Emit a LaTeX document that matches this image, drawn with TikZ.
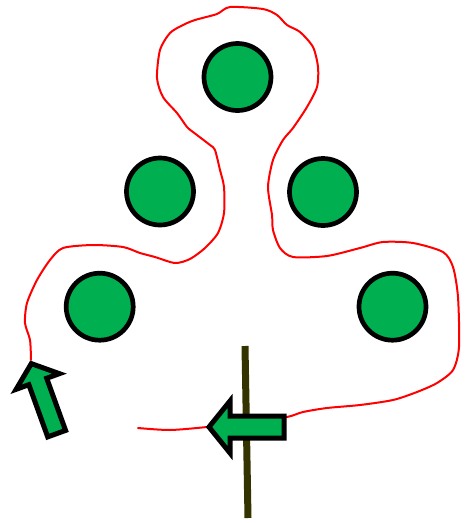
\documentclass[tikz,border=0pt]{standalone}
\definecolor{ballgreen}{RGB}{0,176,80}
\definecolor{poleolive}{RGB}{51,51,0}
\begin{document}
\begin{tikzpicture}[x=1pt,y=-1pt,
  ball/.style={circle,draw=black,fill=ballgreen,line width=4.7pt,minimum size=67pt,inner sep=0pt},
  arrowshape/.style={draw=black,fill=ballgreen,line width=5pt,line join=miter,miter limit=10},
  route/.style={red,line width=2pt,line join=round,line cap=round},
  pole/.style={poleolive,line width=7pt}]
\useasboundingbox (0,0) rectangle (466,523);
% route
\draw[route] plot[smooth,tension=0.45] coordinates {
 (138,428) (170,430) (207,427) (250,422) (287,417) (303,412) (327,408) (360,405)
 (393,400) (417,392) (437,383) (453,370) (459,347) (458,297) (453,267) (443,252)
 (413,243) (383,242) (360,248) (327,256) (293,257) (280,248) (273,230) (272,215)
 (268,187) (273,160) (283,140) (293,128) (307,107) (317,87) (318,67) (313,47)
 (300,32) (287,25) (277,15) (263,9) (230,7) (217,14) (195,20) (183,25) (170,33)
 (160,50) (157,78) (163,97) (177,113) (187,127) (193,132) (210,145) (215,150)
 (220,170) (224,187) (224,213) (218,233) (205,248) (190,259) (175,263) (155,257)
 (140,253) (123,247) (93,245) (63,248) (50,260) (37,280) (27,303) (25,323)
 (30,340) (31,360)};
% pole
\coordinate (poletop) at (245,346);
\coordinate (polebot) at (248,518);
\draw[pole] (poletop) -- (polebot);
% arrows
\draw[arrowshape] (284,416) -- (230,416) -- (230,401) -- (209,427) -- (230,453)
  -- (230,438) -- (284,438) -- cycle;
\draw[arrowshape] (47.7,436.9) -- (28.85,384.7) -- (16.16,389.3) -- (31.3,363.6)
  -- (59.4,373.66) -- (46.71,378.25) -- (65.58,430.42) -- cycle;
% balls
\node[ball] (c1) at (237.5,77) {};
\node[ball] (c2) at (160,191.5) {};
\node[ball] (c3) at (323,192) {};
\node[ball] (c4) at (99.7,306.7) {};
\node[ball] (c5) at (392.5,306.7) {};
\end{tikzpicture}
\end{document}
